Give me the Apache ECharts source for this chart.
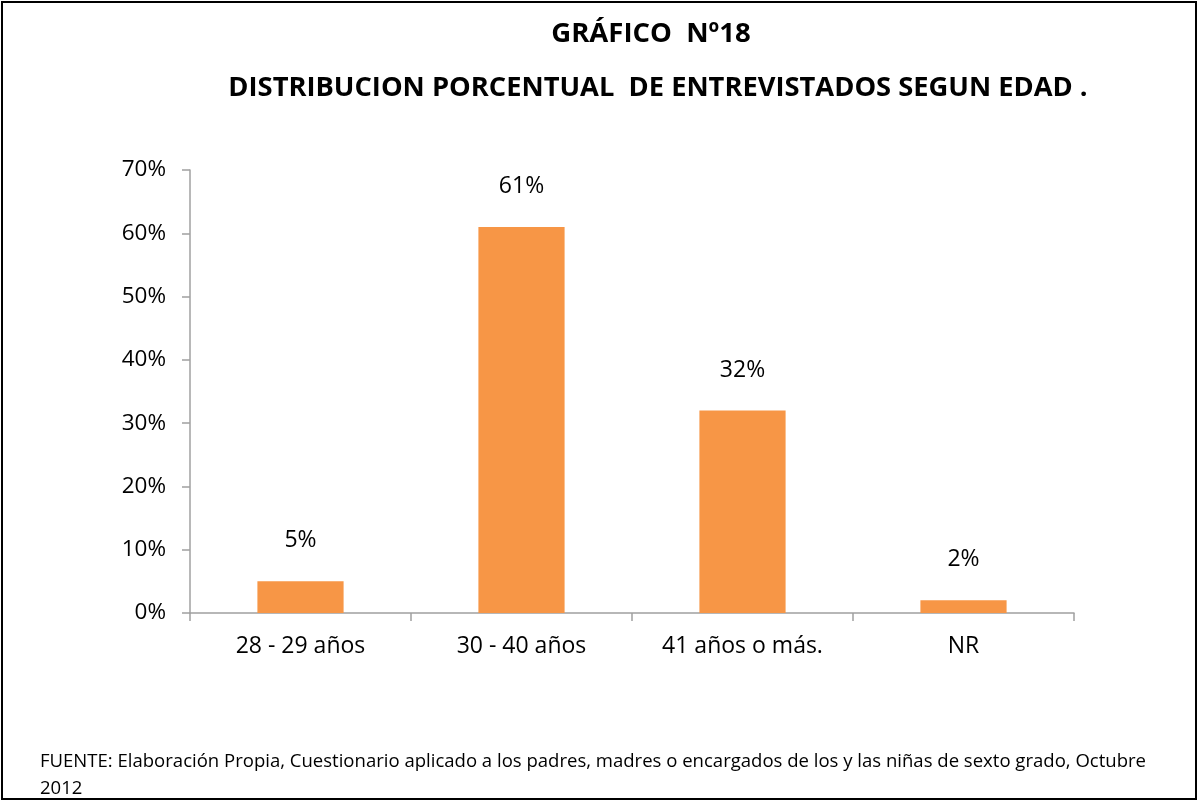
<!DOCTYPE html>
<html>
<head>
<meta charset="utf-8">
<script src="https://cdn.jsdelivr.net/npm/echarts@6/dist/echarts.min.js"></script>
<style>
html,body{margin:0;padding:0;background:#fff;}
#c{width:1199px;height:803px;}
</style>
</head>
<body>
<div id="c"></div>
<script>
const categories = ['28 - 29 años', '30 - 40 años', '41 años o más.', 'NR'];
const values = [5, 61, 32, 2];
const yTicks = [0, 10, 20, 30, 40, 50, 60, 70];

const chart = echarts.init(document.getElementById('c'));
const font = '"Open Sans", "Noto Sans", "Liberation Sans", sans-serif';
chart.setOption({
  backgroundColor: '#fff',
  animation: false,
  title: [
    {text: 'GRÁFICO  Nº18', left: 646, top: 15, textAlign: 'center',
     textStyle: {fontFamily: font, fontSize: 27.5, fontWeight: 'bold', color: '#000'}},
    {text: 'DISTRIBUCION PORCENTUAL  DE ENTREVISTADOS SEGUN EDAD .', left: 653, top: 70, textAlign: 'center',
     textStyle: {fontFamily: font, fontSize: 27.3, fontWeight: 'bold', color: '#000'}},
    {text: 'FUENTE: Elaboración Propia, Cuestionario aplicado a los padres, madres o encargados de los y las niñas de sexto grado, Octubre\n2012',
     left: 35, top: 743,
     textStyle: {fontFamily: font, fontSize: 18.55, fontWeight: 'normal', color: '#000', lineHeight: 27}}
  ],
  graphic: [
    {type: 'rect', shape: {x: 2, y: 2, width: 1194, height: 797},
     style: {fill: 'none', stroke: '#000', lineWidth: 2}, silent: true}
  ],
  grid: {left: 190, right: 125, top: 170, bottom: 190},
  xAxis: {
    type: 'category',
    data: categories,
    axisLine: {lineStyle: {color: '#a0a0a0', width: 1.5}},
    axisTick: {show: true, alignWithLabel: false, length: 8, lineStyle: {color: '#a0a0a0', width: 1.5}},
    axisLabel: {fontFamily: font, fontSize: 23, color: '#000', margin: 22}
  },
  yAxis: {
    type: 'value',
    min: yTicks[0], max: yTicks[yTicks.length - 1], interval: 10,
    axisLine: {show: true, lineStyle: {color: '#a0a0a0', width: 1.5}},
    axisTick: {show: true, length: 8, lineStyle: {color: '#a0a0a0', width: 1.5}},
    splitLine: {show: false},
    axisLabel: {fontFamily: font, fontSize: 22.5, color: '#000', margin: 24, formatter: '{value}%'}
  },
  series: [{
    type: 'bar',
    data: values,
    barWidth: '39%',
    itemStyle: {color: '#F79646'},
    label: {show: true, position: 'top', distance: 29, formatter: '{c}%',
            fontFamily: font, fontSize: 23, color: '#000'}
  }]
});
</script>
</body>
</html>
